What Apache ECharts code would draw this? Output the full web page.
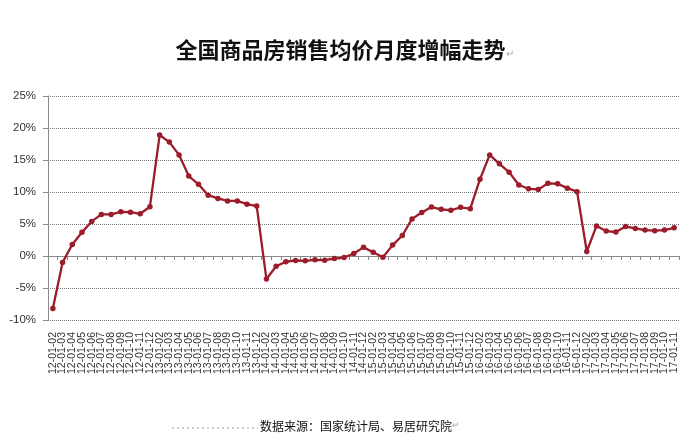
<!DOCTYPE html>
<html>
<head>
<meta charset="utf-8">
<script src="https://cdn.jsdelivr.net/npm/echarts@6/dist/echarts.min.js"></script>
<style>
html,body{margin:0;padding:0;background:#fff;}
#chart{width:689px;height:440px;}
</style>
</head>
<body>
<div id="chart"></div>
<script>
var categories = [
  '12-01-02','12-01-03','12-01-04','12-01-05','12-01-06','12-01-07','12-01-08','12-01-09','12-01-10','12-01-11','12-01-12',
  '13-01-02','13-01-03','13-01-04','13-01-05','13-01-06','13-01-07','13-01-08','13-01-09','13-01-10','13-01-11','13-01-12',
  '14-01-02','14-01-03','14-01-04','14-01-05','14-01-06','14-01-07','14-01-08','14-01-09','14-01-10','14-01-11','14-01-12',
  '15-01-02','15-01-03','15-01-04','15-01-05','15-01-06','15-01-07','15-01-08','15-01-09','15-01-10','15-01-11','15-01-12',
  '16-01-02','16-01-03','16-01-04','16-01-05','16-01-06','16-01-07','16-01-08','16-01-09','16-01-10','16-01-11','16-01-12',
  '17-01-02','17-01-03','17-01-04','17-01-05','17-01-06','17-01-07','17-01-08','17-01-09','17-01-10','17-01-11'
];
var growth = [
  -8.2, -1.0, 1.8, 3.7, 5.4, 6.5, 6.5, 6.9, 6.85, 6.6, 7.7,
  18.9, 17.8, 15.8, 12.5, 11.2, 9.5, 9.0, 8.6, 8.6, 8.1, 7.8,
  -3.6, -1.6, -0.9, -0.7, -0.75, -0.6, -0.65, -0.4, -0.25, 0.4, 1.35,
  0.6, -0.2, 1.7, 3.2, 5.8, 6.8, 7.65, 7.3, 7.15, 7.6, 7.4,
  12.0, 15.8, 14.4, 13.1, 11.1, 10.5, 10.4, 11.35, 11.3, 10.6, 10.05,
  0.7, 4.7, 3.9, 3.75, 4.6, 4.3, 4.05, 3.95, 4.05, 4.4
];
var titleText = '全国商品房销售均价月度增幅走势';
var sourceText = '数据来源：国家统计局、易居研究院';
var yMin = -10, yMax = 25, yStep = 5;

var chart = echarts.init(document.getElementById('chart'), null, {renderer:'canvas'});
var option = {
  backgroundColor: '#ffffff',
  animation: false,
  title: {
    text: titleText + '{m|↵}',
    left: 'center',
    top: 34,
    textStyle: {
      fontFamily: 'Noto Sans CJK SC',
      fontSize: 22,
      fontWeight: 'bold',
      color: '#111',
      rich: { m: { fontSize: 10, color: '#aaa', fontWeight: 'normal', padding: [6,0,0,0] } }
    }
  },
  grid: { left: 48, right: 10, top: 96, bottom: 120, containLabel: false },
  xAxis: [
    {
      type: 'category',
      data: categories,
      boundaryGap: true,
      axisLine: { onZero: true, lineStyle: { color: '#8a8a8a', width: 1 } },
      axisTick: { show: true, length: 4, interval: 0, lineStyle: { color: '#8a8a8a' } },
      axisLabel: { show: false },
      splitLine: { show: false }
    },
    {
      type: 'category',
      data: categories,
      boundaryGap: true,
      position: 'bottom',
      axisLine: { show: false, onZero: false },
      axisTick: { show: false },
      axisLabel: {
        show: true, interval: 0, rotate: 90, margin: 12,
        fontFamily: 'Liberation Sans', fontSize: 10.5, color: '#333'
      },
      splitLine: { show: false }
    }
  ],
  yAxis: {
    type: 'value',
    min: yMin, max: yMax, interval: yStep,
    axisLine: { show: true, lineStyle: { color: '#8a8a8a', width: 1 } },
    axisTick: { show: true, length: 5, lineStyle: { color: '#8a8a8a' } },
    axisLabel: {
      formatter: '{value}%', fontFamily: 'Liberation Sans', fontSize: 11.5,
      color: '#333', margin: 12
    },
    splitLine: { show: true, lineStyle: { type: 'dotted', color: '#777', width: 1 } }
  },
  series: [{
    type: 'line',
    xAxisIndex: 0,
    data: growth,
    symbol: 'circle',
    symbolSize: 5.5,
    lineStyle: { color: '#9b1c2a', width: 2.3 },
    itemStyle: { color: '#9b1c2a' },
    z: 5
  }],
  graphic: [
    {
      type: 'line',
      shape: { x1: 172, y1: 428, x2: 258, y2: 428 },
      style: { stroke: '#999', lineWidth: 1, lineDash: [2, 3] }
    },
    {
      type: 'text',
      left: 260, top: 420,
      style: {
        text: sourceText + '{m|↵}',
        font: '12px "Noto Sans CJK SC"',
        fill: '#111',
        rich: { m: { fontSize: 9, fill: '#aaa' } }
      }
    }
  ]
};
chart.setOption(option);
</script>
</body>
</html>
